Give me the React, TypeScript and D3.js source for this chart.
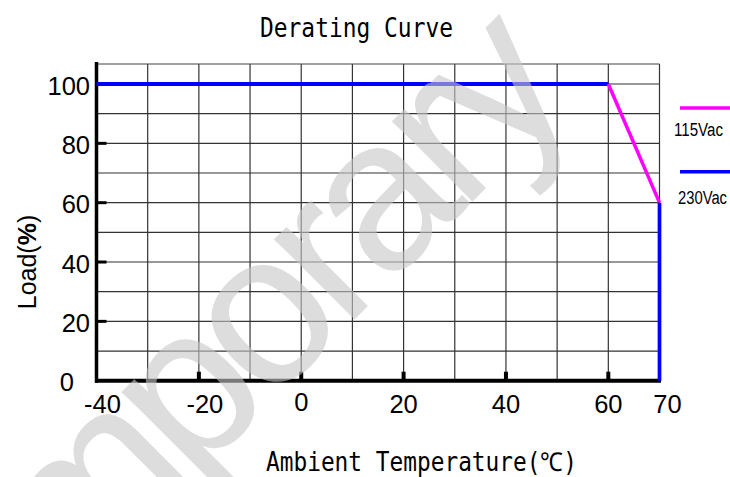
import React from "react";
import * as d3 from "d3";

const W = 730;
const H = 477;

const xTicks = [-40, -20, 0, 20, 40, 60, 70];
const yTicks = [0, 20, 40, 60, 80, 100];
const xGrid = [-30, -20, -10, 0, 10, 20, 30, 40, 50, 60, 70];
const yGrid = [10, 20, 30, 40, 50, 60, 70, 80, 90, 100];
const xTickMarks = [-20, 0, 20, 40, 60];
const yTickMarks = [20, 40, 60, 80];

// 230Vac (blue) segments, 115Vac (magenta) segment
const blueTop: [number, number][] = [[-40, 100], [60, 100]];
const blueDrop: [number, number][] = [[70, 60], [70, 0]];
const magenta: [number, number][] = [[60, 100], [70, 60]];

const legendLabels = ["115Vac", "230Vac"];
const legendColors = ["#ff00ff", "#0000ff"];

const title = "Derating Curve";
const xTitle = "Ambient Temperature(℃)";
const watermark = "Temporary";

export default function App() {
  const x = d3.scaleLinear().domain([-40, 70]).range([96.5, 659.5]);
  const y = d3.scaleLinear().domain([0, 100]).range([380.7, 84]);
  const yTop = 64;
  const line = d3
    .line<[number, number]>()
    .x((d) => x(d[0]))
    .y((d) => y(d[1]));

  const sans = "'Liberation Sans', Arial, sans-serif";
  const mono = "'DejaVu Sans Mono', monospace";
  const narrow = "'Liberation Sans Narrow', 'Liberation Sans', Arial, sans-serif";

  return (
    <svg
      width={W}
      height={H}
      style={{ position: "absolute", left: 0, top: 0, background: "#fff" }}
    >
      <rect x={0} y={0} width={W} height={H} fill="#fff" />
      {/* grid */}
      {xGrid.map((v) => (
        <line
          key={"gx" + v}
          x1={x(v)}
          x2={x(v)}
          y1={yTop}
          y2={y(0)}
          stroke="#333"
          strokeWidth={1.2}
        />
      ))}
      {yGrid.map((v) => (
        <line
          key={"gy" + v}
          x1={x(-40)}
          x2={x(70)}
          y1={y(v)}
          y2={y(v)}
          stroke="#333"
          strokeWidth={1.2}
        />
      ))}
      <line x1={x(-40)} x2={x(70)} y1={yTop} y2={yTop} stroke="#444" strokeWidth={1.2} />

      {/* axes */}
      <line x1={x(-40)} x2={x(-40)} y1={yTop - 2} y2={y(0) + 2} stroke="#000" strokeWidth={3.5} />
      <line x1={x(-40) - 1.5} x2={x(70) + 1.5} y1={y(0)} y2={y(0)} stroke="#000" strokeWidth={4} />
      {yTickMarks.map((v) => (
        <line key={"ty" + v} x1={x(-40)} x2={x(-40) + 10} y1={y(v)} y2={y(v)} stroke="#000" strokeWidth={3} />
      ))}
      {xTickMarks.map((v) => (
        <line key={"tx" + v} x1={x(v)} x2={x(v)} y1={y(0)} y2={y(0) - 9} stroke="#000" strokeWidth={4} />
      ))}

      {/* series */}
      <path d={line(blueTop) || ""} fill="none" stroke="#0000ff" strokeWidth={4.2} />
      <path d={line(magenta) || ""} fill="none" stroke="#ff00ff" strokeWidth={3.5} />
      <path d={line(blueDrop) || ""} fill="none" stroke="#0000ff" strokeWidth={3.7} />

      {/* tick labels */}
      {yTicks.map((v) => (
        <text
          key={"ly" + v}
          x={v === 0 ? 74 : 90}
          y={y(v) + 10.5}
          textAnchor="end"
          fontFamily={sans}
          fontSize={25.5}
          fill="#000"
        >
          {v}
        </text>
      ))}
      {xTicks.map((v) => (
        <text
          key={"lx" + v}
          x={x(v) + (v < 0 ? 6 : v === 70 ? 8 : 0)}
          y={v === 0 ? 411 : 412.5}
          textAnchor="middle"
          fontFamily={sans}
          fontSize={25.5}
          fill="#000"
        >
          {v}
        </text>
      ))}

      {/* titles */}
      <text
        x={260}
        y={37}
        fontFamily={mono}
        fontSize={26}
        textLength={193}
        lengthAdjust="spacingAndGlyphs"
        fill="#000"
      >
        {title}
      </text>
      <text
        x={266}
        y={470.5}
        fontFamily={mono}
        fontSize={26}
        textLength={311}
        lengthAdjust="spacingAndGlyphs"
        fill="#000"
      >
        {xTitle}
      </text>
      <text
        transform="translate(36,262) rotate(-90)"
        textAnchor="middle"
        fontFamily={sans}
        fontSize={25}
        fill="#000"
      >
        Load(<tspan fontWeight="bold">%</tspan>)
      </text>

      {/* legend */}
      {legendLabels.map((lab, i) => (
        <g key={lab}>
          <line
            x1={680}
            x2={730}
            y1={108 + i * 63.7}
            y2={108 + i * 63.7}
            stroke={legendColors[i]}
            strokeWidth={3.6}
          />
          <text
            x={674 + i * 4}
            y={135.5 + i * 68}
            fontFamily={narrow}
            fontSize={18}
            textLength={49}
            lengthAdjust="spacingAndGlyphs"
            fill="#000"
          >
            {lab}
          </text>
        </g>
      ))}

      {/* watermark */}
      <text
        transform="translate(-70,744) rotate(-45)"
        fontFamily={sans}
        fontSize={215}
        letterSpacing={-12}
        fill="#c8c8c8"
        opacity={0.6}
      >
        {watermark}
      </text>
    </svg>
  );
}
